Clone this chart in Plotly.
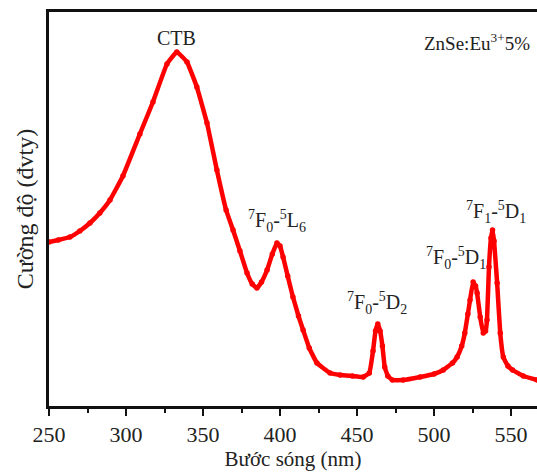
import plotly.graph_objects as go

wavelength = [250, 256, 263.6, 270, 276.6, 283, 289.6, 298, 309, 317.5, 326.6, 333, 339.6, 346,
              352.6, 359, 365, 369.5, 374, 378.6, 382, 385, 388, 391.6, 395, 398, 400, 402, 405,
              408.4, 412, 415, 419, 424, 432.5, 439, 447, 454, 458, 460.4, 462, 463.5, 465, 466.5,
              468, 470, 473, 480, 491, 500, 506, 512, 515, 518, 520, 522, 523.4, 525.4, 527, 528,
              530, 532, 533.5, 534.4, 535.7, 537, 538, 539, 541, 543, 545, 548, 551, 558, 567]
intensity = [164, 166, 169, 175, 183, 193, 206, 230, 272, 304, 342, 354, 344, 319,
             283, 236, 196, 176, 155, 133, 122, 118, 124, 136, 152, 163, 160, 149, 130,
             109, 90, 76, 58, 43, 33, 31, 30, 29, 33, 55, 75, 82, 75, 60,
             39, 30, 26, 26, 29, 32, 36, 43, 49, 60, 73, 92, 106, 124, 120, 113,
             89, 73, 75, 86, 139, 168, 176, 165, 123, 73, 49, 40, 36, 30, 26]

x_ticks = [250, 300, 350, 400, 450, 500, 550]

labels = [
    ("CTB", 333, 368),
    ("<sup>7</sup>F<sub>0</sub>-<sup>5</sup>L<sub>6</sub>", 398, 185),
    ("<sup>7</sup>F<sub>0</sub>-<sup>5</sup>D<sub>2</sub>", 463, 103),
    ("<sup>7</sup>F<sub>0</sub>-<sup>5</sup>D<sub>1</sub>", 514, 148),
    ("<sup>7</sup>F<sub>1</sub>-<sup>5</sup>D<sub>1</sub>", 540, 194),
]

FONT = "Liberation Serif, Times New Roman, serif"
RED = "#ff0000"

fig = go.Figure()
fig.add_trace(go.Scatter(
    x=wavelength, y=intensity, mode="lines+markers",
    line=dict(color=RED, width=4.5, shape="spline", smoothing=0.3),
    marker=dict(color=RED, size=5.5),
    showlegend=False, hoverinfo="skip"))

for text, x, y in labels:
    fig.add_annotation(x=x, y=y, text=text, showarrow=False,
                       font=dict(family=FONT, size=20, color="#222"),
                       xanchor="center", yanchor="middle")

fig.add_annotation(xref="paper", yref="paper", x=0.764, y=0.925, text="ZnSe:Eu<sup>3+</sup>5%",
                   showarrow=False, xanchor="left", yanchor="middle",
                   font=dict(family=FONT, size=19, color="#222"))

fig.update_layout(
    width=537, height=473,
    margin=dict(l=49, r=0, t=12, b=67),
    plot_bgcolor="white", paper_bgcolor="white",
    font=dict(family=FONT, color="#222"),
    xaxis=dict(range=[250, 250 + 488 * 50 / 77], tickvals=x_ticks,
               showline=True, linecolor="#111", linewidth=2.5, mirror=True,
               ticks="outside", ticklen=7, tickwidth=2, tickcolor="#111",
               minor=dict(dtick=25, tick0=250, ticks="outside", ticklen=4, tickwidth=2, tickcolor="#111"),
               showgrid=False, zeroline=False,
               tickfont=dict(family=FONT, size=22, color="#222"),
               title=dict(text="Bước sóng (nm)", font=dict(family=FONT, size=21, color="#222"), standoff=2)),
    yaxis=dict(range=[0, 394], showticklabels=False, ticks="",
               showline=True, linecolor="#111", linewidth=2.5, mirror=False,
               showgrid=False, zeroline=False,
               title=dict(text="Cường độ (đvty)", font=dict(family=FONT, size=24, color="#222"), standoff=6)),
)

fig.write_html("out.html")
